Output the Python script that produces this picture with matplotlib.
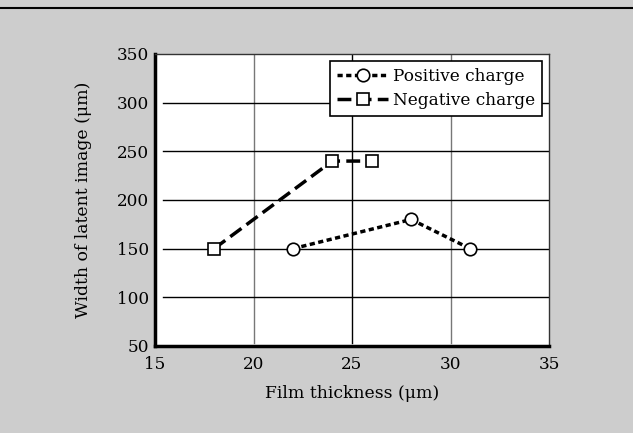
import matplotlib
matplotlib.use("Agg")
from matplotlib import pyplot as plt
from matplotlib.lines import Line2D

pos_x = [22, 28, 31]
pos_y = [150, 180, 150]
neg_x = [18, 24, 26]
neg_y = [150, 240, 240]
x_ticks = [15, 20, 25, 30, 35]
y_ticks = [50, 100, 150, 200, 250, 300, 350]

plt.rcParams['font.family'] = ['DejaVu Serif']
plt.rcParams['font.size'] = 12

fig = plt.figure(figsize=(6.33, 4.33), dpi=100)
fig.patch.set_facecolor('#cdcdcd')
fig.add_artist(Line2D([0, 1], [1 - 8 / 433, 1 - 8 / 433], color='black', lw=1.5))

ax = fig.add_axes([155 / 633, 1 - 346 / 433, 394 / 633, 292 / 433])
ax.set_xlim(15, 35)
ax.set_ylim(50, 350)
ax.set_xticks(x_ticks)
ax.set_yticks(y_ticks)
ax.tick_params(length=0, labelsize=12.2)
ax.tick_params(axis='x', pad=7)
ax.tick_params(axis='y', pad=4)

for t in [20, 30]:
    ax.axvline(t, ymin=0.01, color='#777777', lw=1, zorder=1)
ax.axvline(25, ymin=0.01, color='black', lw=1, zorder=1)
for t in y_ticks[1:-1]:
    ax.axhline(t, xmin=0.02, color='black', lw=1, zorder=1)

ax.spines['left'].set_linewidth(2.5)
ax.spines['bottom'].set_linewidth(2.5)
ax.spines['top'].set_linewidth(1)
ax.spines['right'].set_linewidth(1)
ax.spines['top'].set_color('#333333')
ax.spines['right'].set_color('#333333')

ax.plot(pos_x, pos_y, linestyle=(0, (1.5, 1.0)), lw=2.5, color='black',
        marker='o', markersize=9, markerfacecolor='white', markeredgecolor='black',
        markeredgewidth=1.2, label='Positive charge', zorder=3)
ax.plot(neg_x, neg_y, linestyle=(0, (4.0, 1.8)), lw=2.5, color='black',
        marker='s', markersize=9, markerfacecolor='white', markeredgecolor='black',
        markeredgewidth=1.2, label='Negative charge', zorder=3)

leg = ax.legend(loc='upper right', bbox_to_anchor=(0.982, 0.976), fancybox=False,
                framealpha=1, edgecolor='black', handlelength=3.0, borderpad=0.4,
                labelspacing=0.45, handletextpad=0.3, borderaxespad=0, fontsize=12.2)
leg.get_frame().set_linewidth(1.2)

ax.set_xlabel('Film thickness (μm)', fontsize=12.4, labelpad=9)
ax.set_ylabel('Width of latent image (μm)', fontsize=12.4, labelpad=18)

fig.savefig('out.png', dpi=100, facecolor=fig.get_facecolor())
